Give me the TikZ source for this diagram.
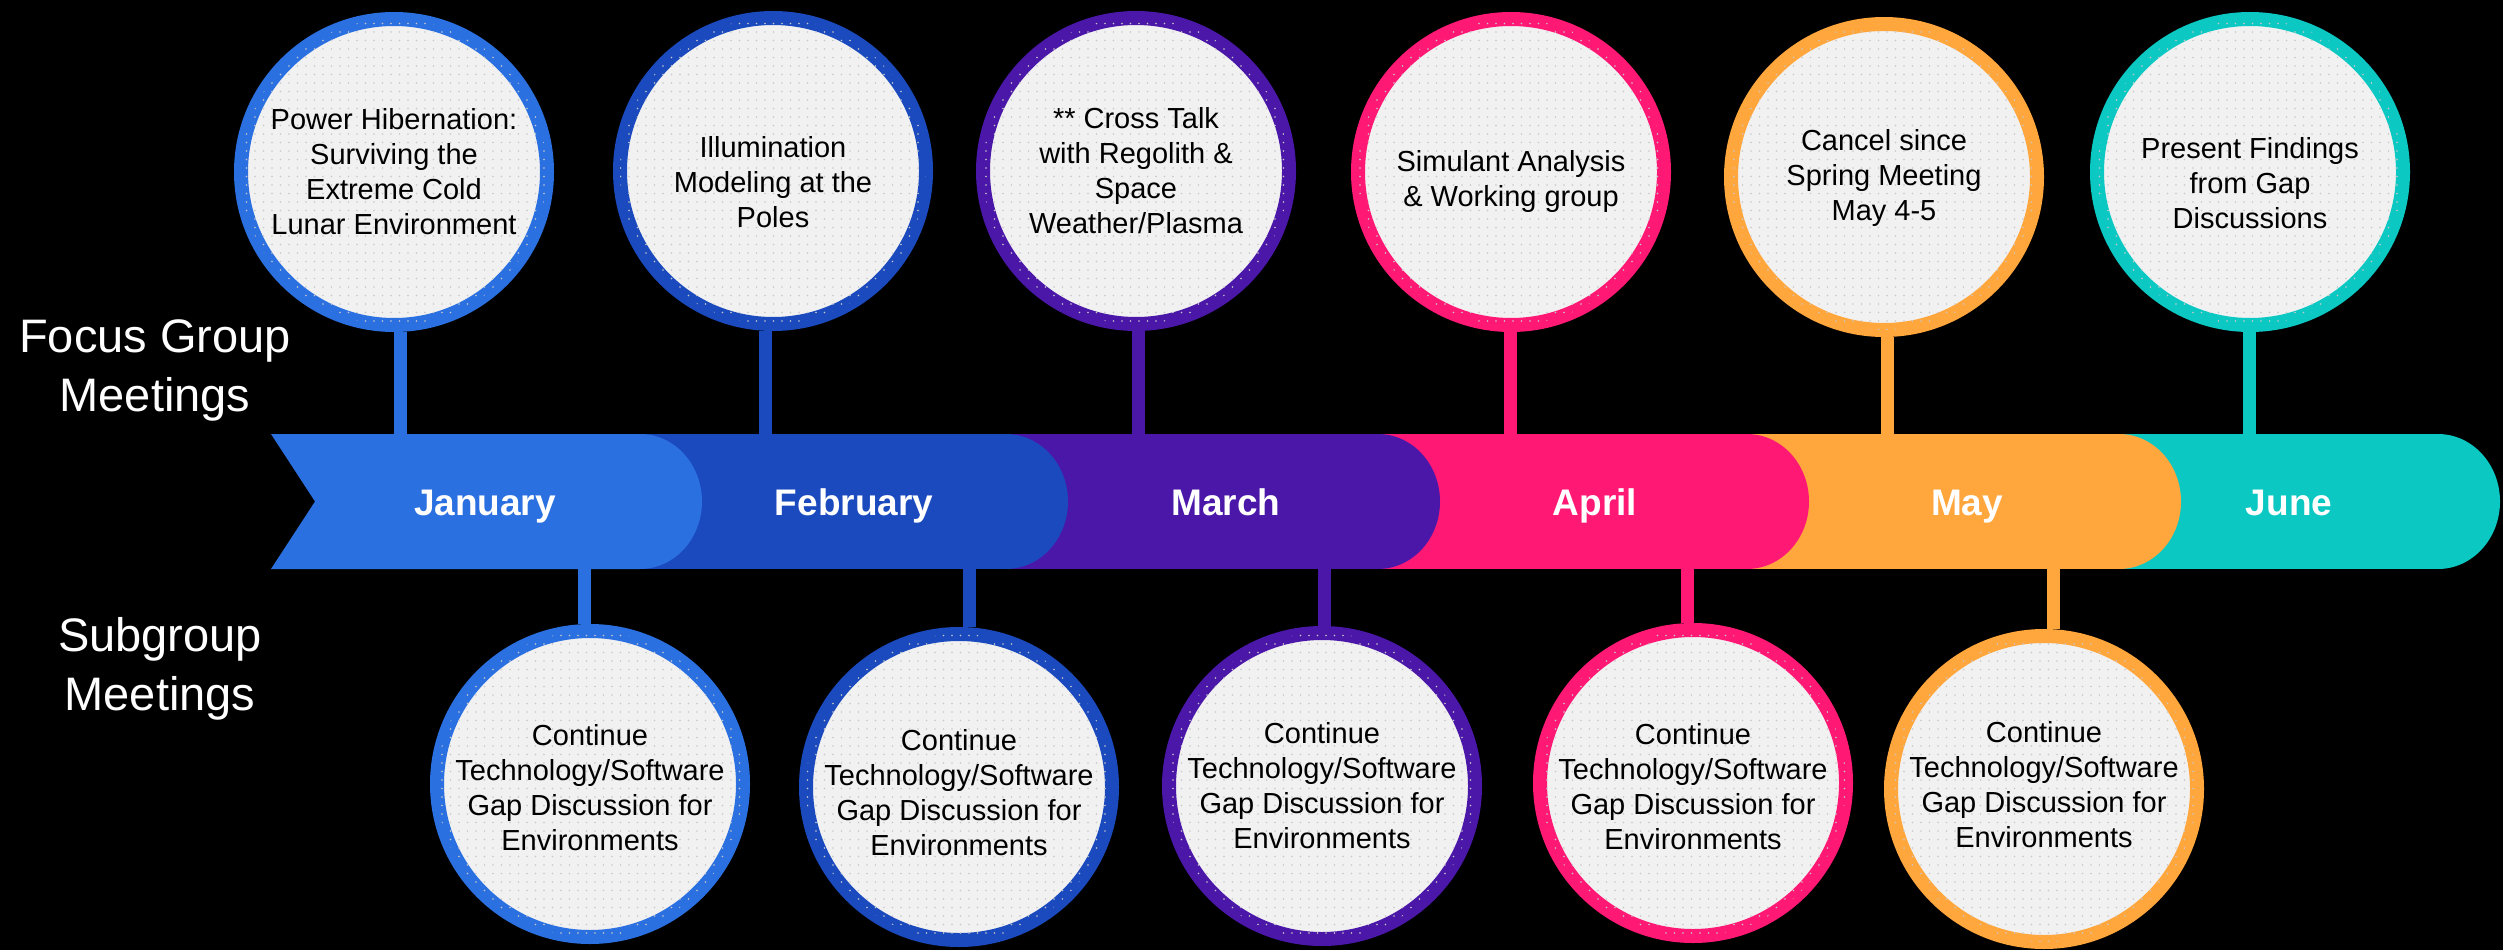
\documentclass[tikz,border=0pt]{standalone}
\usepackage{fontspec}
\setmainfont{Liberation Sans}
\usetikzlibrary{patterns.meta}
\definecolor{cjan}{HTML}{2B70E0}
\definecolor{cfeb}{HTML}{1A4ABE}
\definecolor{cmar}{HTML}{4B17A8}
\definecolor{capr}{HTML}{FF1975}
\definecolor{cmay}{HTML}{FFA63D}
\definecolor{cjun}{HTML}{0CC8C3}
\definecolor{cfill}{HTML}{F1F1F1}
\definecolor{cdot}{HTML}{C8C8C8}
\begin{document}
\begin{tikzpicture}[x=1pt,y=-1pt,
  bubble/.style={circle, draw=#1, line width=14pt, fill=cfill,
    postaction={pattern={Dots[distance=8.5pt,radius=0.9pt]}, pattern color=cdot},
    minimum size=306pt, inner sep=0pt},
  btext/.style={align=center, font=\fontsize{29}{35}\selectfont, text=black, inner sep=0pt},
  stem/.style={draw=#1, line width=13pt},
  month/.style={text=white, anchor=base, font=\bfseries\fontsize{37}{44}\selectfont},
  side/.style={text=white, align=center, font=\fontsize{47}{59}\selectfont}]
\fill[black] (0,0) rectangle (2503,950);
\useasboundingbox (0,0) rectangle (2503,950);
\coordinate (btop) at (0,434);
\coordinate (bbot) at (0,569);
% band segments (back to front)
\fill[cjun] (2119,434) rectangle (2438,569);
\fill[cjun] (2438,501.5) ellipse [x radius=62, y radius=67.5];
\fill[cmay] (1747,434) rectangle (2119,569);
\fill[cmay] (2119,501.5) ellipse [x radius=62, y radius=67.5];
\fill[capr] (1378,434) rectangle (1747,569);
\fill[capr] (1747,501.5) ellipse [x radius=62, y radius=67.5];
\fill[cmar] (1006,434) rectangle (1378,569);
\fill[cmar] (1378,501.5) ellipse [x radius=62, y radius=67.5];
\fill[cfeb] (640,434) rectangle (1006,569);
\fill[cfeb] (1006,501.5) ellipse [x radius=62, y radius=67.5];
\fill[cjan] (271,434) -- (640,434) -- (640,569) -- (271,569) -- (315,501.5) -- cycle;
\fill[cjan] (640,501.5) ellipse [x radius=62, y radius=67.5];
% month labels
\node[month] (mjan) at (485,515) {January};
\node[month] (mfeb) at (854,515) {February};
\node[month] (mmar) at (1226,515) {March};
\node[month] (mapr) at (1595,515) {April};
\node[month] (mmay) at (1967,515) {May};
\node[month] (mjun) at (2289,515) {June};
% side labels
\node[side] (focus) at (155,370) {Focus Group\\Meetings};
\node[side] (sub) at (160,669) {Subgroup\\Meetings};
% top bubbles
\node[bubble=cjan] (tjan) at (394,172) {};
\node[bubble=cfeb] (tfeb) at (773,171) {};
\node[bubble=cmar] (tmar) at (1136,171) {};
\node[bubble=capr] (tapr) at (1511,172) {};
\node[bubble=cmay] (tmay) at (1884,177) {};
\node[bubble=cjun] (tjun) at (2250,172) {};
\node[btext] (tjant) at (394,172) {Power Hibernation:\\Surviving the\\Extreme Cold\\Lunar Environment};
\node[btext] (tfebt) at (773,182) {Illumination\\Modeling at the\\Poles};
\node[btext] (tmart) at (1136,171) {** Cross Talk\\with Regolith \&\\Space\\Weather/Plasma};
\node[btext] (taprt) at (1511,182) {Simulant Analysis\\\& Working group};
\node[btext] (tmayt) at (1884,178) {Cancel since\\Spring Meeting\\May 4-5};
\node[btext] (tjunt) at (2250,183) {Present Findings\\from Gap\\Discussions};
% bottom bubbles
\node[bubble=cjan] (bjan) at (590,784) {};
\node[bubble=cfeb] (bfeb) at (959,787) {};
\node[bubble=cmar] (bmar) at (1322,786) {};
\node[bubble=capr] (bapr) at (1693,783) {};
\node[bubble=cmay] (bmay) at (2044,789) {};
\foreach \n/\y in {bjan/788,bfeb/793,bmar/786,bapr/787,bmay/785}
  \node[btext] (\n t) at (\n |- 0,\y) {Continue\\Technology/Software\\Gap Discussion for\\Environments};
% stems
\foreach \n/\c/\dx in {tjan/cjan/6,tfeb/cfeb/-8,tmar/cmar/2,tapr/capr/-1,tmay/cmay/3,tjun/cjun/-1}
  \draw[stem=\c] ([xshift=\dx pt]\n.south) -- ([xshift=\dx pt]\n.south |- btop);
\foreach \n/\c/\dx in {bjan/cjan/-6,bfeb/cfeb/10,bmar/cmar/2,bapr/capr/-6,bmay/cmay/9}
  \draw[stem=\c] ([xshift=\dx pt]\n.north) -- ([xshift=\dx pt]\n.north |- bbot);
\end{tikzpicture}
\end{document}
